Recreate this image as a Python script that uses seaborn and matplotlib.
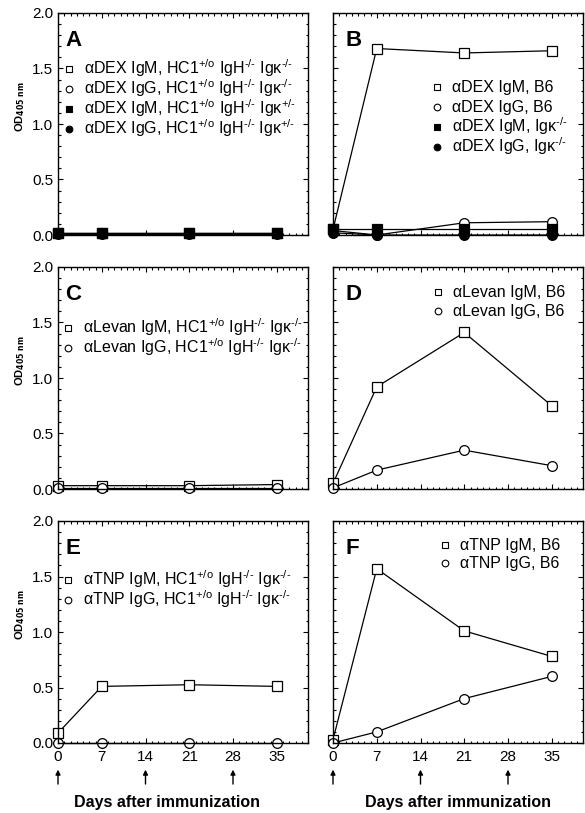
import matplotlib
matplotlib.use("Agg")
import matplotlib.pyplot as plt
import seaborn as sns
from matplotlib.ticker import MultipleLocator

sns.set_style("ticks")
plt.rcParams["font.family"] = ["Liberation Sans", "DejaVu Sans"]
plt.rcParams["mathtext.fontset"] = "custom"
plt.rcParams["mathtext.rm"] = "Liberation Sans"
plt.rcParams["mathtext.default"] = "regular"
for key in ["text.color", "axes.labelcolor", "xtick.color", "ytick.color", "axes.edgecolor"]:
    plt.rcParams[key] = "black"

# data (OD405)
days = [0, 7, 21, 35]
KO = "HC1$^{+/o}$ IgH$^{\u2010/\u2010}$ Igκ$^{\u2010/\u2010}$"
HET = "HC1$^{+/o}$ IgH$^{\u2010/\u2010}$ Igκ$^{+/\u2010}$"
KAPPA = "Igκ$^{\u2010/\u2010}$"

a_igm_ko = [0.02, 0.02, 0.02, 0.02]
a_igg_ko = [0.01, 0.01, 0.01, 0.01]
a_igm_het = [0.02, 0.02, 0.02, 0.02]
a_igg_het = [0.02, 0.02, 0.02, 0.02]

b_igm_b6 = [0.05, 1.68, 1.64, 1.66]
b_igg_b6 = [0.04, 0.0, 0.11, 0.12]
b_igm_k = [0.05, 0.05, 0.05, 0.05]
b_igg_k = [0.02, 0.0, 0.0, 0.0]

c_igm_ko = [0.03, 0.03, 0.03, 0.04]
c_igg_ko = [0.01, 0.01, 0.01, 0.01]

d_igm_b6 = [0.05, 0.92, 1.41, 0.75]
d_igg_b6 = [0.01, 0.17, 0.35, 0.21]

e_igm_ko = [0.09, 0.51, 0.525, 0.51]
e_igg_ko = [0.0, 0.0, 0.0, 0.0]

f_igm_b6 = [0.03, 1.57, 1.01, 0.78]
f_igg_b6 = [0.0, 0.10, 0.40, 0.60]

imm_days = [0, 14, 28]
xticks = [0, 7, 14, 21, 28, 35]

W, H = 585, 813
AW, AH = 250, 222
fig = plt.figure(figsize=(W / 100, H / 100), dpi=100)

def make_ax(left, top):
    ax = fig.add_axes([left / W, 1 - (top + AH) / H, AW / W, AH / H])
    ax.set_xlim(0, 40)
    ax.set_ylim(0, 2.0)
    ax.xaxis.set_major_locator(MultipleLocator(7))
    ax.xaxis.set_minor_locator(MultipleLocator(1))
    ax.yaxis.set_major_locator(MultipleLocator(0.5))
    ax.yaxis.set_minor_locator(MultipleLocator(0.1))
    ax.tick_params(which="both", direction="in", top=True, right=True, width=0.8)
    ax.tick_params(which="major", length=3.5, labelsize=11)
    ax.tick_params(which="minor", length=1.8)
    for s in ax.spines.values():
        s.set_linewidth(1.0)
    ax._px = (left, top)
    return ax

def series(ax, y, marker, filled):
    sns.lineplot(x=days, y=y, ax=ax, color="black", lw=0.9, marker=marker,
                 markersize=7, markerfacecolor="black" if filled else "white",
                 markeredgecolor="black", markeredgewidth=0.9, clip_on=False,
                 legend=False)

def legend(ax, entries, mx, y0, dy):
    left, top = ax._px
    for i, (m, f, txt) in enumerate(entries):
        py = y0 + i * dy
        fy = (top + AH - py) / AH
        ax.plot([(mx - left) / AW], [fy], transform=ax.transAxes, ls="none",
                marker=m, markersize=4.8, markeredgewidth=0.8,
                markerfacecolor="black" if f else "white", markeredgecolor="black",
                clip_on=False)
        ax.text((mx + 15 - left) / AW, (top + AH - py - 5) / AH, txt,
                transform=ax.transAxes, fontsize=11.5, ha="left", va="baseline")

def letter(ax, s, x):
    ax.text(x, 0.925, s, transform=ax.transAxes, fontsize=16,
            fontweight="bold", va="top", ha="left")

axes = {}
tops = [13, 267, 521]
for r, row in enumerate([("A", "B"), ("C", "D"), ("E", "F")]):
    axes[row[0]] = make_ax(58, tops[r])
    axes[row[1]] = make_ax(333, tops[r])

# A
ax = axes["A"]
series(ax, a_igg_ko, "o", False)
series(ax, a_igm_ko, "s", False)
series(ax, a_igg_het, "o", True)
series(ax, a_igm_het, "s", True)
legend(ax, [("s", False, "αDEX IgM, " + KO), ("o", False, "αDEX IgG, " + KO),
            ("s", True, "αDEX IgM, " + HET), ("o", True, "αDEX IgG, " + HET)],
       69, 69, 20)
letter(ax, "A", 0.03)

# B
ax = axes["B"]
series(ax, b_igm_b6, "s", False)
series(ax, b_igg_b6, "o", False)
series(ax, b_igm_k, "s", True)
series(ax, b_igg_k, "o", True)
legend(ax, [("s", False, "αDEX IgM, B6"), ("o", False, "αDEX IgG, B6"),
            ("s", True, "αDEX IgM, " + KAPPA), ("o", True, "αDEX IgG, " + KAPPA)],
       437, 87, 20)
letter(ax, "B", 0.05)

# C
ax = axes["C"]
series(ax, c_igm_ko, "s", False)
series(ax, c_igg_ko, "o", False)
legend(ax, [("s", False, "αLevan IgM, " + KO), ("o", False, "αLevan IgG, " + KO)],
       68, 328, 20)
letter(ax, "C", 0.03)

# D
ax = axes["D"]
series(ax, d_igm_b6, "s", False)
series(ax, d_igg_b6, "o", False)
legend(ax, [("s", False, "αLevan IgM, B6"), ("o", False, "αLevan IgG, B6")],
       438, 292, 19)
letter(ax, "D", 0.05)

# E
ax = axes["E"]
series(ax, e_igm_ko, "s", False)
series(ax, e_igg_ko, "o", False)
legend(ax, [("s", False, "αTNP IgM, " + KO), ("o", False, "αTNP IgG, " + KO)],
       68, 580, 20)
letter(ax, "E", 0.03)

# F
ax = axes["F"]
series(ax, f_igm_b6, "s", False)
series(ax, f_igg_b6, "o", False)
legend(ax, [("s", False, "αTNP IgM, B6"), ("o", False, "αTNP IgG, B6")],
       445, 545, 18)
letter(ax, "F", 0.05)

for k, ax in axes.items():
    if k in "ACE":
        ax.set_yticks([0, 0.5, 1.0, 1.5, 2.0])
        ax.set_yticklabels(["0.0", "0.5", "1.0", "1.5", "2.0"])
        ax.text(-0.15, 0.58, r"OD$_{\mathbf{405\ nm}}$", transform=ax.transAxes,
                rotation=90, fontsize=8, fontweight="bold", ha="center", va="center")
    else:
        ax.set_yticklabels([])
    if k in "EF":
        ax.set_xticks(xticks)
        ax.set_xticklabels([str(t) for t in xticks])
        ax.tick_params(axis="x", pad=5)
        for d in imm_days:
            ax.annotate("", xy=(d, -0.12), xycoords=("data", "axes fraction"),
                        xytext=(d, -0.185), textcoords=("data", "axes fraction"),
                        arrowprops=dict(arrowstyle="-|>", color="black", lw=1.0,
                                        mutation_scale=7, shrinkA=0, shrinkB=0),
                        annotation_clip=False)
        ax.text(17.5 if k == "E" else 20, -0.235, "Days after immunization",
                transform=ax.get_xaxis_transform(), fontsize=11.5,
                fontweight="bold", ha="center", va="top")
    else:
        ax.set_xticklabels([])
    ax.set_xlabel("")
    ax.set_ylabel("")

fig.savefig("out.png", dpi=100)
